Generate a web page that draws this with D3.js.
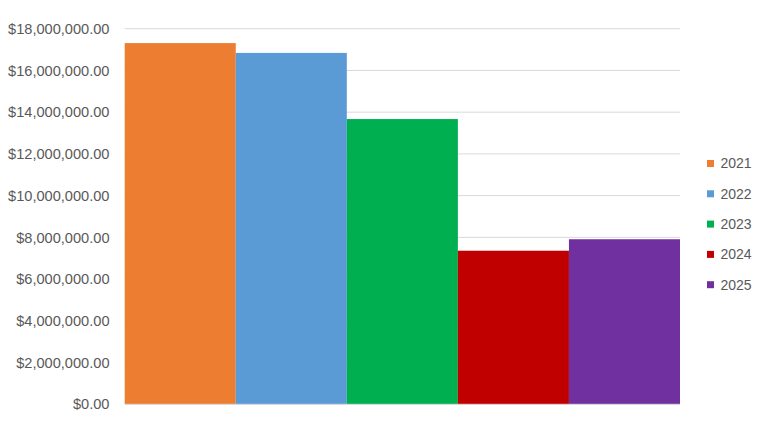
<!DOCTYPE html>
<html><head><meta charset="utf-8">
<script src="https://cdn.jsdelivr.net/npm/d3@7"></script>
<style>body{margin:0;background:#fff}svg{display:block}</style>
</head><body>
<svg id="c" width="768" height="433"></svg>
<script>
const years = ["2021","2022","2023","2024","2025"];
const values = [17310000, 16840000, 13670000, 7360000, 7910000];
const colors = ["#ED7D31","#5B9BD5","#00B050","#C00000","#7030A0"];
const yTicks = [0,2000000,4000000,6000000,8000000,10000000,12000000,14000000,16000000,18000000];

const svg = d3.select("#c");
const m = {left:124.7, right:680, top:28.7, bottom:404.3};
const x = d3.scaleBand().domain(years).range([m.left, m.right]).padding(0);
const y = d3.scaleLinear().domain([0,18000000]).range([m.bottom, m.top]);
const font = "'Liberation Sans', Arial, sans-serif";
const fmt = v => "$" + d3.format(",.2f")(v);

// gridlines
svg.append("g").selectAll("line").data(yTicks.filter(d=>d>0)).join("line")
  .attr("x1", m.left).attr("x2", m.right)
  .attr("y1", d=>y(d)).attr("y2", d=>y(d))
  .attr("stroke","#d9d9d9").attr("stroke-width",1);

// bars
svg.append("g").selectAll("rect").data(years).join("rect")
  .attr("x", d=>x(d)).attr("width", x.bandwidth())
  .attr("y", (d,i)=>y(values[i])).attr("height", (d,i)=>y(0)-y(values[i]))
  .attr("fill", (d,i)=>colors[i]);

// baseline
svg.append("line").attr("x1", m.left).attr("x2", m.right)
  .attr("y1", y(0)).attr("y2", y(0)).attr("stroke","#d9d9d9").attr("stroke-width",1);

// y axis
const yAxis = d3.axisLeft(y).tickValues(yTicks).tickFormat(fmt).tickSize(0).tickPadding(0);
const ga = svg.append("g").attr("transform", `translate(109.5,0)`).call(yAxis);
ga.select(".domain").remove();
ga.selectAll("text").attr("fill","#595959").style("font-family",font).style("font-size","14.6px");

// legend
const lg = svg.append("g").selectAll("g").data(years).join("g")
  .attr("transform", (d,i)=>`translate(707,${163.5 + i*30.3})`);
lg.append("rect").attr("x",0).attr("y",-3.5).attr("width",7).attr("height",7)
  .attr("fill",(d,i)=>colors[i]);
lg.append("text").attr("x",13.5).attr("y",0).attr("dy","0.35em")
  .attr("fill","#595959").style("font-family",font).style("font-size","14px")
  .text(d=>d);
</script>
</body></html>
